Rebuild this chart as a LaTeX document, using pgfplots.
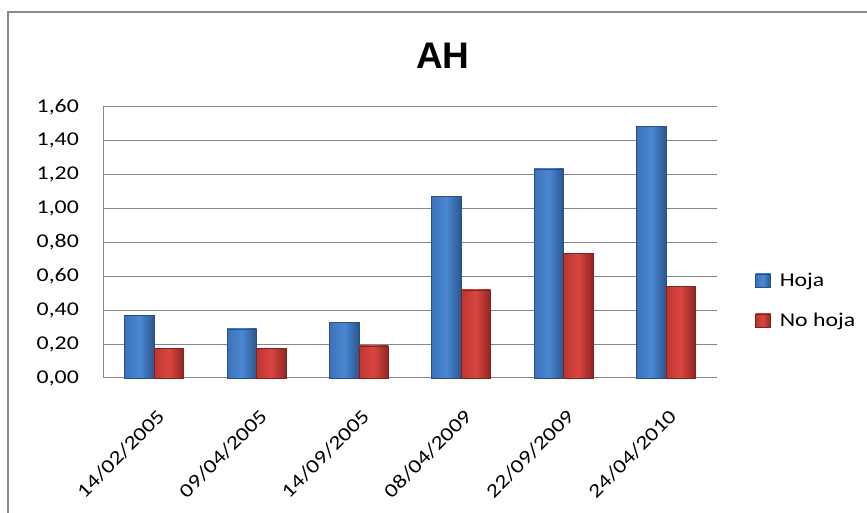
\documentclass[border=0pt]{standalone}
\usepackage{fontspec}
\setmainfont{Carlito}[FakeStretch=1.22]
\newfontfamily\titlefont{Liberation Sans}
\usepackage{pgfplots}
\pgfplotsset{compat=1.18}
\definecolor{gridgray}{HTML}{868686}
\definecolor{frame}{HTML}{8A8A8A}
\definecolor{bL}{HTML}{3A72BA}
\definecolor{bM}{HTML}{4A88D3}
\definecolor{bR}{HTML}{2B5690}
\definecolor{bD}{HTML}{2A4F80}
\definecolor{rL}{HTML}{BC3531}
\definecolor{rM}{HTML}{DA4640}
\definecolor{rR}{HTML}{902624}
\definecolor{rD}{HTML}{7E2220}
\newcommand\tickfont{\fontsize{19.5bp}{23bp}\selectfont}
\pgfplotsset{
  hoja/.style={ybar, bar width=29.5bp, bar shift=-14.75bp, draw=bD, line width=0.6bp, left color=bL, right color=bR, middle color=bM},
  nohoja/.style={ybar, bar width=29.5bp, bar shift=14.75bp, draw=rD, line width=0.6bp, left color=rL, right color=rR, middle color=rM},
}
\begin{document}
\begin{tikzpicture}[x=1bp,y=1bp]
\path[use as bounding box] (0,0) rectangle (867,513);
\draw[frame, line width=2bp] (8,0) -- (8,501) -- (867,501);
\node[anchor=base] at (443,444.7) {\titlefont\bfseries\fontsize{37bp}{40bp}\selectfont AH};
\begin{axis}[
  at={(103bp,135bp)}, anchor=south west,
  scale only axis, width=614bp, height=271bp,
  xmin=-0.5, xmax=5.5, ymin=0, ymax=1.6,
  ytick={0,0.2,0.4,0.6,0.8,1.0,1.2,1.4,1.6},
  xtick={0,1,2,3,4,5},
  xticklabels={14/02/2005,09/04/2005,14/09/2005,08/04/2009,22/09/2009,24/04/2010},
  axis x line*=bottom, axis y line*=left,
  axis line style={gridgray, line width=1bp, -},
  ymajorgrids, grid style={gridgray, line width=1bp},
  major tick length=0pt,
  yticklabel shift=24bp,
  yticklabel style={font=\tickfont, inner sep=0pt, anchor=east,
    /pgf/number format/.cd, fixed, fixed zerofill, precision=2, use comma, assume math mode=true},
  xticklabel style={font=\tickfont, inner sep=0pt, xshift=2bp, yshift=-30bp, rotate=45, anchor=north east},
  legend style={draw=none, fill=none, at={(1,0.286)}, anchor=west, xshift=38bp,
    inner sep=0pt, font=\tickfont, row sep=21bp, cells={anchor=west}},
  legend image code/.code={\fill[#1] (0bp,-6.5bp) rectangle (15bp,6.5bp); \path (22bp,0bp);},
  clip=false,
]
% Hoja
\addplot[hoja] coordinates {(0,0.37)};
\addlegendentry{Hoja}
\addplot[hoja, forget plot] coordinates {(1,0.29)};
\addplot[hoja, forget plot] coordinates {(2,0.33)};
\addplot[hoja, forget plot] coordinates {(3,1.07)};
\addplot[hoja, forget plot] coordinates {(4,1.235)};
\addplot[hoja, forget plot] coordinates {(5,1.485)};
% No hoja
\addplot[nohoja] coordinates {(0,0.173)};
\addlegendentry{No hoja}
\addplot[nohoja, forget plot] coordinates {(1,0.173)};
\addplot[nohoja, forget plot] coordinates {(2,0.19)};
\addplot[nohoja, forget plot] coordinates {(3,0.52)};
\addplot[nohoja, forget plot] coordinates {(4,0.735)};
\addplot[nohoja, forget plot] coordinates {(5,0.543)};
\end{axis}
\end{tikzpicture}
\end{document}
